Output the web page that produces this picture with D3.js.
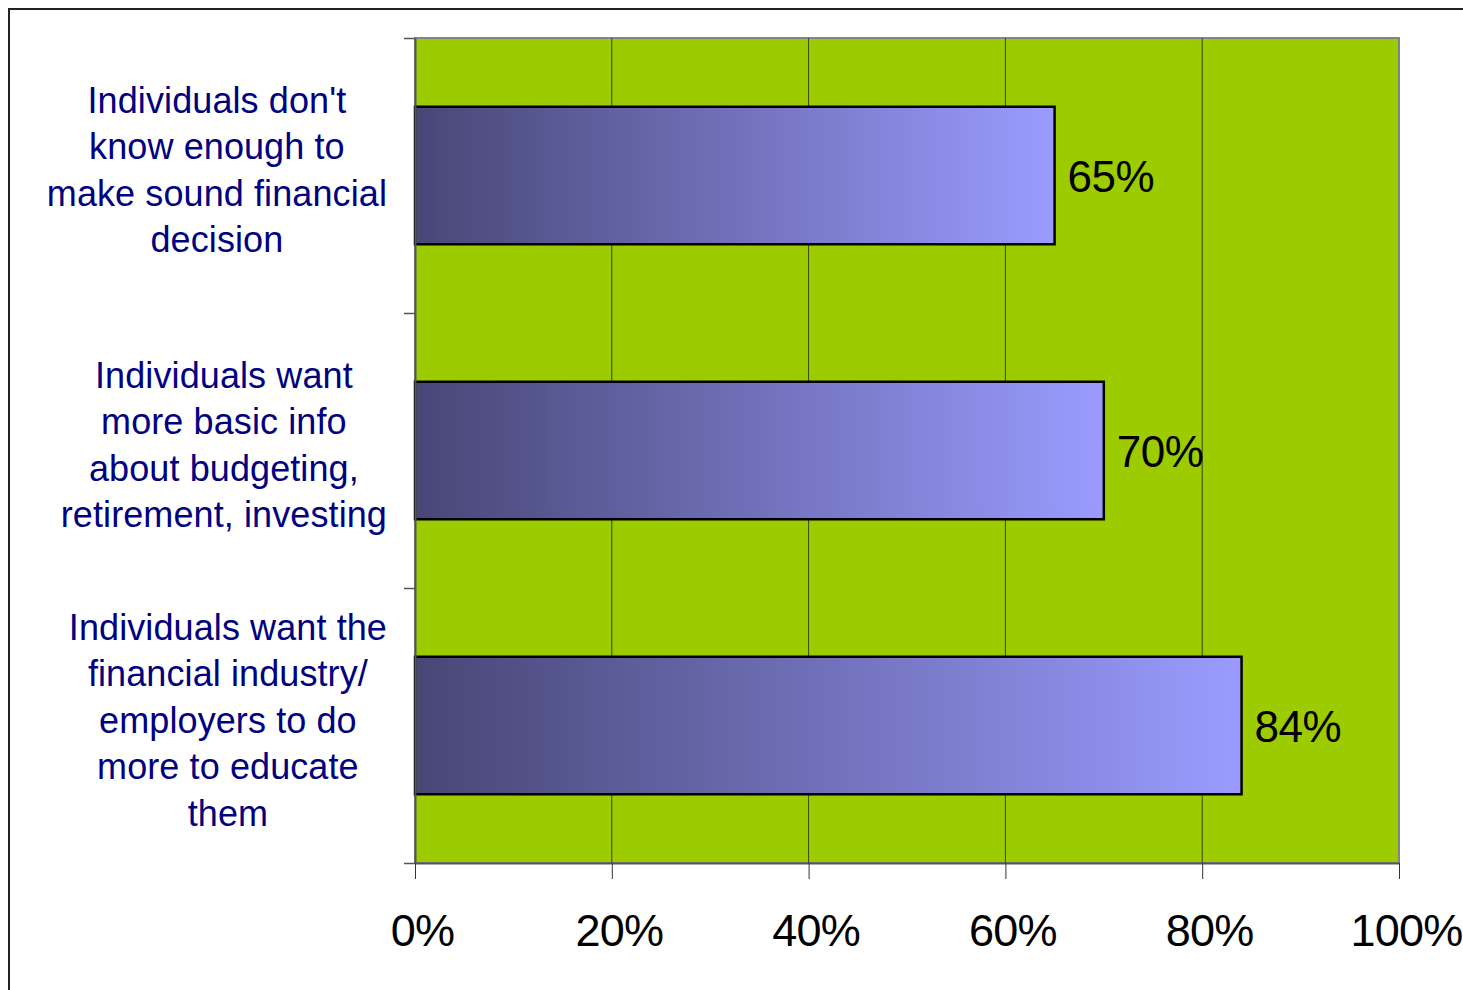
<!DOCTYPE html>
<html>
<head>
<meta charset="utf-8">
<script src="https://cdn.jsdelivr.net/npm/d3@7"></script>
<style>
  body { margin: 0; background: #fff; }
  svg { display: block; font-family: "Liberation Sans", Arial, sans-serif; }
</style>
</head>
<body>
<svg id="chart" width="1463" height="990"></svg>
<script>
// chart data
const categories = [
  ["Individuals don't", "know enough to", "make sound financial", "decision"],
  ["Individuals want", "more basic info", "about budgeting,", "retirement, investing"],
  ["Individuals want the", "financial industry/", "employers to do", "more to educate", "them"]
];
const values = [0.65, 0.70, 0.84];
const xTicks = [0, 0.2, 0.4, 0.6, 0.8, 1.0];

const svg = d3.select('#chart');
const plot = { left: 415, right: 1399, top: 38, bottom: 863 };

// outer frame (runs off the right and bottom edge)
svg.append('rect')
  .attr('x', 9).attr('y', 9)
  .attr('width', 1500).attr('height', 1100)
  .attr('fill', 'none')
  .attr('stroke', '#222')
  .attr('stroke-width', 2);

const defs = svg.append('defs');
const grad = defs.append('linearGradient')
  .attr('id', 'barGrad')
  .attr('x1', '0%').attr('x2', '100%')
  .attr('y1', '0%').attr('y2', '0%');
grad.append('stop').attr('offset', '0%').attr('stop-color', '#474776');
grad.append('stop').attr('offset', '100%').attr('stop-color', '#9b9bff');

const x = d3.scaleLinear().domain([0, 1]).range([plot.left, plot.right]);
const ids = categories.map((c, i) => i);
const y = d3.scaleBand().domain(ids).range([plot.top, plot.bottom])
  .paddingInner(0.5).paddingOuter(0.25);
const yEdge = d3.scaleLinear().domain([0, categories.length]).range([plot.top, plot.bottom]);

// plot background
svg.append('rect')
  .attr('x', plot.left).attr('y', plot.top)
  .attr('width', plot.right - plot.left)
  .attr('height', plot.bottom - plot.top)
  .attr('fill', '#9ccc00')
  .attr('stroke', '#848484')
  .attr('stroke-width', 2);

// gridlines
svg.append('g')
  .selectAll('line')
  .data(xTicks.filter(d => d > 0 && d < 1))
  .enter().append('line')
  .attr('x1', d => x(d)).attr('x2', d => x(d))
  .attr('y1', plot.top).attr('y2', plot.bottom)
  .attr('stroke', '#3a4410')
  .attr('stroke-width', 1);

// bars
svg.append('g')
  .selectAll('rect')
  .data(values)
  .enter().append('rect')
  .attr('x', x(0))
  .attr('y', (d, i) => y(i))
  .attr('width', d => x(d) - x(0))
  .attr('height', y.bandwidth())
  .attr('fill', 'url(#barGrad)')
  .attr('stroke', '#000')
  .attr('stroke-width', 2.5);

// value labels
svg.append('g')
  .selectAll('text')
  .data(values)
  .enter().append('text')
  .attr('x', d => x(d) + 13)
  .attr('y', (d, i) => y(i) + y.bandwidth() / 2 + 16)
  .attr('font-size', 44)
  .attr('letter-spacing', -0.5)
  .attr('fill', '#000')
  .text(d => d3.format('.0%')(d));

// y axis (ticks at band edges)
const yAxis = svg.append('g')
  .attr('transform', `translate(${plot.left},0)`)
  .call(d3.axisLeft(yEdge).tickValues(d3.range(categories.length + 1)).tickFormat('').tickSize(11).tickSizeOuter(0));
yAxis.select('.domain').attr('stroke', '#555').attr('stroke-width', 2);
yAxis.selectAll('.tick line').attr('stroke', '#555').attr('stroke-width', 1.5);

// x axis
const xAxis = svg.append('g')
  .attr('transform', `translate(0,${plot.bottom})`)
  .call(d3.axisBottom(x).tickValues(xTicks).tickFormat(d3.format('.0%')).tickSize(16).tickSizeOuter(0));
xAxis.select('.domain').attr('stroke', '#555').attr('stroke-width', 2);
xAxis.selectAll('.tick line').attr('stroke', '#333').attr('stroke-width', 1);
xAxis.selectAll('.tick text')
  .attr('font-family', '"Liberation Sans", Arial, sans-serif')
  .attr('font-size', 45)
  .attr('letter-spacing', -0.8)
  .attr('fill', '#000')
  .attr('x', 7)
  .attr('y', 83)
  .attr('dy', 0);

// category labels: lines centred inside a block whose right edge sits by the axis
const lineH = 46.5;
const labelRight = 387;
categories.forEach((lines, i) => {
  const g = svg.append('g');
  const cy = y(i) + y.bandwidth() / 2;
  const texts = g.selectAll('text')
    .data(lines)
    .enter().append('text')
    .attr('font-size', 36)
    .attr('letter-spacing', 0.1)
    .attr('fill', '#000080')
    .attr('text-anchor', 'middle')
    .attr('y', (d, j) => cy - (lines.length - 1) / 2 * lineH + 7 + j * lineH)
    .text(d => d);
  let maxW = 0;
  texts.each(function () { maxW = Math.max(maxW, this.getComputedTextLength()); });
  texts.attr('x', labelRight - maxW / 2);
});
</script>
</body>
</html>
